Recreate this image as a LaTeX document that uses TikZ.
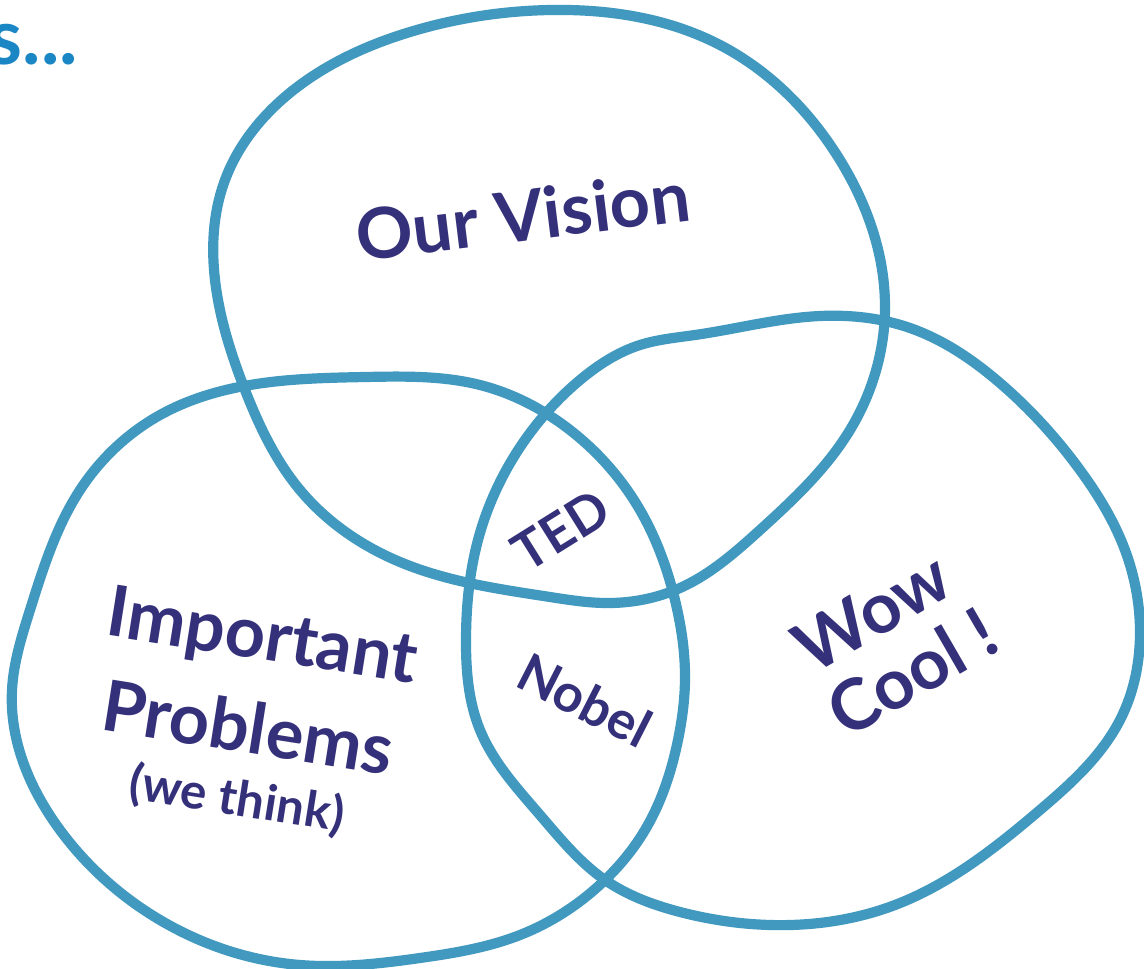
\documentclass[tikz,border=0pt]{standalone}
\usepackage{fontspec}
\setmainfont{Lato}
\usetikzlibrary{hobby}
\definecolor{ring}{RGB}{66,153,191}
\definecolor{ink}{RGB}{52,48,122}
\definecolor{head}{RGB}{26,134,196}
\begin{document}
\begin{tikzpicture}[x=0.01cm,y=-0.01cm,
  blob/.style={draw=ring,line width=2.9pt,line join=round,use Hobby shortcut,closed=true},
  lbl/.style={text=ink,font=\bfseries\fontsize{20}{24}\selectfont,inner sep=0pt,align=center},
  small/.style={text=ink,font=\bfseries\fontsize{15}{18}\selectfont,inner sep=0pt}]
\useasboundingbox (0,0) rectangle (1144,969);
\fill[white] (0,0) rectangle (1144,969);
% top blob: Our Vision
\draw[blob] (550,10) .. (720,45) .. (840,160) .. (885,305) .. (850,430) .. (760,530) .. (680,588) .. (605,603) .. (550,597) .. (400,562) .. (300,490) .. (245,390) .. (218,300) .. (225,180) .. (300,85) .. (410,32);
% bottom-left blob: Important Problems
\draw[blob] (365,377) .. (480,385) .. (570,430) .. (640,510) .. (675,600) .. (685,680) .. (678,740) .. (645,830) .. (605,880) .. (520,935) .. (420,958) .. (300,965) .. (160,920) .. (60,830) .. (12,690) .. (30,610) .. (80,490) .. (160,415) .. (250,385);
% right blob: Wow Cool
\draw[blob] (695,335) .. (820,316) .. (910,328) .. (1000,383) .. (1080,470) .. (1125,550) .. (1140,630) .. (1120,720) .. (1040,810) .. (895,905) .. (770,925) .. (680,912) .. (605,880) .. (540,815) .. (480,730) .. (466,640) .. (478,540) .. (515,455) .. (580,380) .. (640,345);
% labels
\node[text=head,font=\bfseries\fontsize{22}{24}\selectfont,anchor=base west,inner sep=0pt] (hdr) at (-12,64) {s...};
\node[lbl,rotate=7] (vision) at (523,215) {Our Vision};
\node[small,rotate=32] (ted) at (561,530) {TED};
\node[small,rotate=-27] (nobel) at (585,700) {Nobel};
\node[lbl,rotate=30] (wow) at (872,612) {Wow};
\node[lbl,rotate=30] (cool) at (912,672) {Cool !};
\node[lbl,rotate=-9] (imp) at (262,640) {Important};
\node[lbl,rotate=-9] (prob) at (248,727) {Problems};
\node[small,font=\bfseries\fontsize{14}{16}\selectfont,rotate=-9] (think) at (237,800) {(we think)};
\end{tikzpicture}
\end{document}
